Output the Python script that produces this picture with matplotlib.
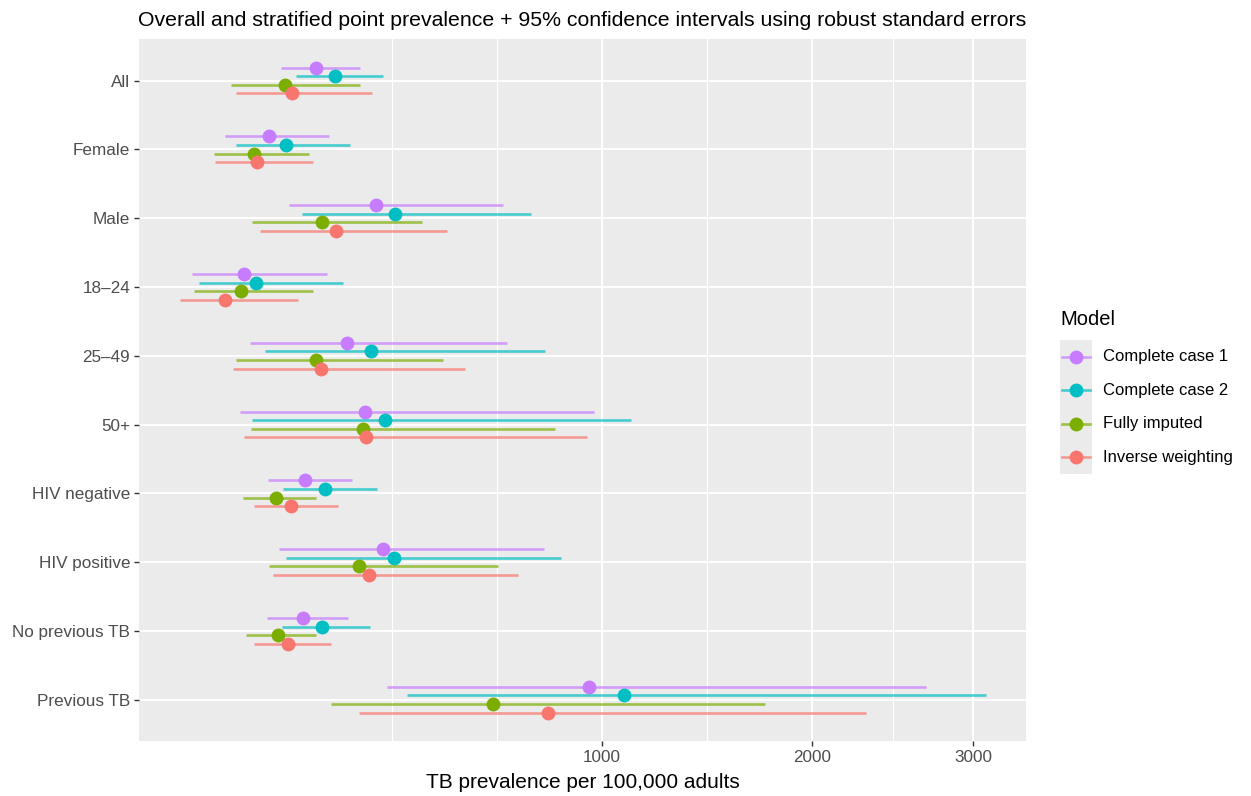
import numpy as np
import matplotlib
matplotlib.use("Agg")
import matplotlib.pyplot as plt
from matplotlib.patches import Rectangle

plt.rcParams['font.family'] = ['Liberation Sans', 'DejaVu Sans']

categories = ["All", "Female", "Male", "18–24", "25–49", "50+",
              "HIV negative", "HIV positive", "No previous TB", "Previous TB"]

models = ["Complete case 1", "Complete case 2", "Fully imputed", "Inverse weighting"]
colors = ["#C77CFF", "#00BFC4", "#7CAE00", "#F8766D"]

# point estimates and 95% CI per 100,000
cc1_est = [191, 118, 307, 87, 248, 284, 172, 323, 169, 948]
cc1_lo = [135, 66, 146, 37, 94, 82, 116, 132, 115, 333]
cc1_hi = [274, 214, 648, 209, 659, 967, 258, 785, 250, 2687]

cc2_est = [225, 142, 351, 101, 296, 327, 206, 347, 200, 1090]
cc2_lo = [157, 78, 167, 42, 112, 96, 138, 142, 136, 380]
cc2_hi = [323, 254, 740, 240, 788, 1118, 309, 845, 294, 3084]

fi_est = [140, 99, 200, 83, 190, 279, 127, 272, 130, 615]
fi_lo = [72, 55, 96, 38, 78, 95, 86, 118, 89, 217]
fi_hi = [274, 178, 417, 185, 470, 823, 190, 631, 190, 1743]

iw_est = [151, 102, 227, 66, 199, 286, 150, 293, 145, 797]
iw_lo = [78, 56, 106, 28, 74, 87, 99, 124, 98, 272]
iw_hi = [299, 185, 481, 160, 533, 940, 230, 696, 217, 2309]

ests = [cc1_est, cc2_est, fi_est, iw_est]
los = [cc1_lo, cc2_lo, fi_lo, iw_lo]
his = [cc1_hi, cc2_hi, fi_hi, iw_hi]
offsets = [-0.1875, -0.0625, 0.0625, 0.1875]

W, H = 1251, 796
fig = plt.figure(figsize=(W / 100, H / 100), dpi=100)
fig.patch.set_facecolor("white")

px_l, px_r, px_t, px_b = 139.3, 1026.0, 39.3, 741.0
ax = fig.add_axes([px_l / W, 1 - px_b / H, (px_r - px_l) / W, (px_b - px_t) / H])
ax.set_facecolor("#EBEBEB")

fwd = lambda x: np.sqrt(np.maximum(x, 0))
inv = lambda x: np.asarray(x) ** 2
ax.set_xscale('function', functions=(fwd, inv))

y = np.arange(len(categories))
for k in range(4):
    yy = y + offsets[k]
    ax.hlines(yy, los[k], his[k], color=colors[k], lw=1.9, alpha=0.7, zorder=3 + k)
    ax.plot(ests[k], yy, 'o', color=colors[k], ms=10, mec='none', zorder=3 + k)

# limits like ggplot: 5% expansion in sqrt space
allv = np.concatenate([np.array(los, float).ravel(), np.array(his, float).ravel()])
s_min, s_max = np.sqrt(allv.min()), np.sqrt(allv.max())
pad = 0.05 * (s_max - s_min)
lo_s, hi_s = s_min - pad, s_max + pad
ax.set_xlim(max(lo_s, 0) ** 2, hi_s ** 2)
ax.set_ylim(len(categories) - 1 + 0.6, -0.6)

majors = [1000, 2000, 3000]
sb = list(np.sqrt(majors))
bd = sb[1] - sb[0]
ext = [sb[0] - bd] + sb
if hi_s > sb[-1]:
    ext = ext + [sb[-1] + bd]
minor_s = ext + [(a + b) / 2 for a, b in zip(ext[:-1], ext[1:])]
minor_v = [v ** 2 for v in minor_s if lo_s < v < hi_s]

for v in minor_v:
    ax.axvline(v, color="white", lw=0.8, zorder=1)
for v in majors:
    ax.axvline(v, color="white", lw=1.3, zorder=1.5)
for yv in y:
    ax.axhline(yv, color="white", lw=1.3, zorder=1.5)

ax.set_xticks(majors)
ax.set_xticklabels([str(m) for m in majors])
ax.xaxis.set_minor_locator(matplotlib.ticker.NullLocator())
ax.set_yticks(y)
ax.set_yticklabels(categories)
ax.tick_params(axis='both', length=3.6, width=1.0, color="#333333",
               labelsize=12.3, labelcolor="#4D4D4D", pad=3)
for s in ax.spines.values():
    s.set_visible(False)

fig.text(137.5 / W, 1 - 20 / H,
         "Overall and stratified point prevalence + 95% confidence intervals using robust standard errors",
         ha='left', va='center', fontsize=15.3, color="black")
fig.text((px_l + px_r) / 2 / W, 1 - 783 / H, "TB prevalence per 100,000 adults",
         ha='center', va='center', fontsize=15, color="black")

# legend drawn in pixel coordinates
lg = fig.add_axes([1030 / W, 1 - 480 / H, 221 / W, 180 / H])
lg.set_xlim(1030, 1251)
lg.set_ylim(480, 300)
lg.axis('off')
lg.text(1060, 320, "Model", fontsize=14.5, ha='left', va='center')
key_h = 33.5
for k, name in enumerate(models):
    cy = 340 + key_h * k + key_h / 2
    lg.add_patch(Rectangle((1060, 340 + key_h * k), 32, key_h, color="#EBEBEB", lw=0))
    lg.plot([1062, 1090], [cy, cy], color=colors[k], lw=1.9, alpha=0.7)
    lg.plot([1076], [cy], 'o', color=colors[k], ms=10, mec='none')
    lg.text(1103, cy, name, fontsize=12, ha='left', va='center', color="black")

fig.savefig("out.png", dpi=100)
